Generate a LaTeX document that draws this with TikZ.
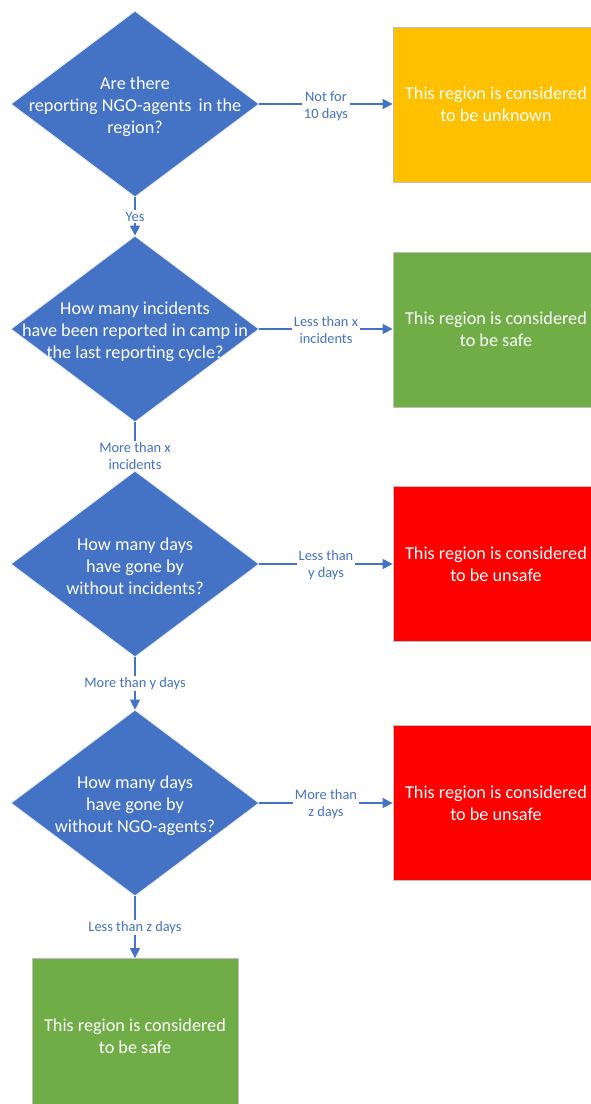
\documentclass[tikz,border=0pt]{standalone}
\usepackage{fontspec}
\setmainfont{Carlito}
\usetikzlibrary{shapes.geometric,arrows.meta}
\definecolor{flowblue}{HTML}{4472C4}
\definecolor{unknownc}{HTML}{FFC000}
\definecolor{safec}{HTML}{70AD47}
\definecolor{unsafec}{HTML}{FF0000}
\definecolor{boxedge}{HTML}{BFBFBF}
\tikzset{
  x=1pt, y=-1pt,
  decision/.style={diamond, draw=white!85!flowblue, line width=0.8pt, fill=flowblue,
    minimum width=248pt, minimum height=186pt, inner sep=0pt},
  dtext/.style={text=white, align=center, font=\fontsize{18.2}{21.8}\selectfont,
    inner sep=0pt, yshift=-2.5pt},
  outcome/.style={rectangle, draw=boxedge, line width=0.8pt, minimum width=206pt,
    minimum height=155pt, text=white, align=center, font=\fontsize{18.2}{22}\selectfont},
  flow/.style={draw=flowblue, line width=1.3pt, -{Triangle[length=10pt,width=10pt]}},
  elabel/.style={fill=white, text=flowblue, align=center, inner sep=1.5pt,
    font=\fontsize{14.4}{17}\selectfont}
}
\begin{document}
\begin{tikzpicture}
\useasboundingbox (0,0) rectangle (590,1104);

% decisions
\node[decision] (d1) at (135,104) {};
\node[dtext] at (d1) {Are there\\reporting NGO-agents\, in the\\region?};
\node[decision] (d2) at (135,329) {};
\node[dtext] at (d2) {How many incidents\\have been reported in camp in\\the last reporting cycle?};
\node[decision] (d3) at (135,564) {};
\node[dtext] at (d3) {How many days\\have gone by\\without incidents?};
\node[decision] (d4) at (135,803) {};
\node[dtext] at (d4) {How many days\\have gone by\\without NGO-agents?};

% outcomes
\node[outcome, fill=unknownc] (o1) at (496,104.5) {This region is considered\\to be unknown};
\node[outcome, fill=safec] (o2) at (496,329.5) {This region is considered\\to be safe};
\node[outcome, fill=unsafec] (o3) at (496,564) {This region is considered\\to be unsafe};
\node[outcome, fill=unsafec] (o4) at (496,803) {This region is considered\\to be unsafe};
\node[outcome, fill=safec] (o5) at (135,1036) {This region is considered\\to be safe};

% horizontal branches
\draw[flow] (d1.east) -- node[elabel, yshift=-2pt] {Not for\\10 days} (d1.east -| o1.west);
\draw[flow] (d2.east) -- node[elabel, yshift=-1.5pt] {Less than x\\incidents} (d2.east -| o2.west);
\draw[flow] (d3.east) -- node[elabel, yshift=-1.5pt] {Less than\\y days} (d3.east -| o3.west);
\draw[flow] (d4.east) -- node[elabel, yshift=-1.5pt] {More than\\z days} (d4.east -| o4.west);

% vertical branches
\draw[flow] (d1.south) -- node[elabel] {Yes} (d2.north);
\draw[flow] (d2.south) -- node[elabel, pos=0.7] {More than x\\incidents} (d3.north);
\draw[flow] (d3.south) -- node[elabel] {More than y days} (d4.north);
\draw[flow] (d4.south) -- node[elabel] {Less than z days} (o5.north);
\end{tikzpicture}
\end{document}
